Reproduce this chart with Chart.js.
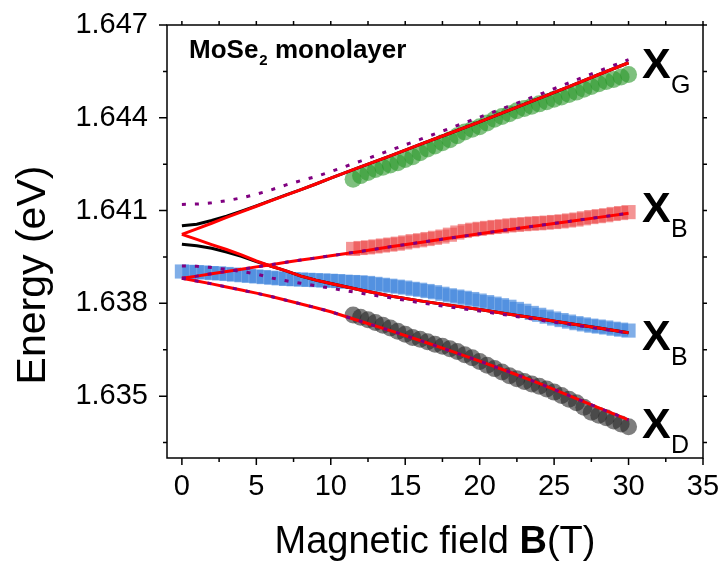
<!DOCTYPE html>
<html>
<head>
<meta charset="utf-8">
<script src="https://cdn.jsdelivr.net/npm/chart.js@4.4.1/dist/chart.umd.min.js"></script>
<style>
  html, body { margin: 0; padding: 0; background: #fff; }
  #wrap { width: 723px; height: 563px; }
</style>
</head>
<body>
<div id="wrap"><canvas id="myChart" width="723" height="563"></canvas></div>
<script>
// axis ticks
const xTicks = [0, 5, 10, 15, 20, 25, 30, 35];
const xMinor = [2.5, 7.5, 12.5, 17.5, 22.5, 27.5, 32.5];
const yTicks = [1.635, 1.638, 1.641, 1.644, 1.647];
const yMinor = [1.6335, 1.6365, 1.6395, 1.6425, 1.6455];

// measured points (B in T, energy in eV)
const measB = [11.5, 12, 12.5, 13, 13.5, 14, 14.5, 15, 15.5, 16, 16.5, 17, 17.5, 18, 18.5, 19, 19.5, 20, 20.5, 21,
  21.5, 22, 22.5, 23, 23.5, 24, 24.5, 25, 25.5, 26, 26.5, 27, 27.5, 28, 28.5, 29, 29.5, 30];
const xG = [1.64201, 1.64213, 1.64223, 1.64233, 1.6424, 1.64247, 1.64255, 1.64265, 1.64274, 1.64287,
  1.64299, 1.64309, 1.64319, 1.64329, 1.64342, 1.64354, 1.64363, 1.64371, 1.64383, 1.64395,
  1.64404, 1.64413, 1.64423, 1.6443, 1.64437, 1.64445, 1.64452, 1.6446, 1.64467, 1.64475,
  1.64483, 1.64492, 1.64501, 1.6451, 1.64517, 1.64524, 1.64532, 1.6454];
const xBup = [1.63976, 1.63979, 1.63981, 1.63984, 1.63987, 1.6399, 1.63993, 1.63997, 1.64001, 1.64004,
  1.64008, 1.64012, 1.64016, 1.64022, 1.64029, 1.64034, 1.64038, 1.64041, 1.64044, 1.64047,
  1.64049, 1.64052, 1.64054, 1.64056, 1.64058, 1.64059, 1.64061, 1.64063, 1.64065, 1.64068,
  1.64071, 1.64075, 1.64079, 1.64082, 1.64085, 1.64089, 1.64092, 1.64095];
const xD = [1.63762, 1.63755, 1.63747, 1.63738, 1.63729, 1.6372, 1.6371, 1.637, 1.6369, 1.63684,
  1.63676, 1.63668, 1.63661, 1.63653, 1.63644, 1.63634, 1.63624, 1.63612, 1.636, 1.63589,
  1.63578, 1.63566, 1.63556, 1.63547, 1.63539, 1.63532, 1.63523, 1.63513, 1.63502, 1.6349,
  1.63479, 1.63464, 1.63448, 1.63438, 1.6343, 1.6342, 1.6341, 1.63401];

const blueB = [0, 0.5, 1, 1.5, 2, 2.5, 3, 3.5, 4, 4.5, 5, 5.5, 6, 6.5, 7, 7.5, 8, 8.5, 9, 9.5,
  10, 10.5, 11, 11.5, 12, 12.5, 13, 13.5, 14, 14.5, 15, 15.5, 16, 16.5, 17, 17.5, 18, 18.5, 19, 19.5,
  20, 20.5, 21, 21.5, 22, 22.5, 23, 23.5, 24, 24.5, 25, 25.5, 26, 26.5, 27, 27.5, 28, 28.5, 29, 29.5, 30];
const xBlow = [1.63903, 1.63902, 1.63901, 1.639, 1.63898, 1.63897, 1.63895, 1.63893, 1.63891, 1.63889,
  1.63887, 1.63885, 1.63883, 1.63881, 1.63879, 1.63878, 1.63877, 1.63876, 1.63875, 1.63874,
  1.63873, 1.63872, 1.6387, 1.63869, 1.63868, 1.63866, 1.63863, 1.6386, 1.63857, 1.63854,
  1.63851, 1.63847, 1.63844, 1.6384, 1.63836, 1.63831, 1.63826, 1.63822, 1.63818, 1.63814,
  1.63809, 1.63804, 1.63799, 1.63794, 1.63789, 1.63782, 1.63776, 1.63769, 1.63763, 1.63757,
  1.63751, 1.63746, 1.63741, 1.63736, 1.63732, 1.63728, 1.63725, 1.63722, 1.63718, 1.63715, 1.63712];

// model curves
const curveB = [0, 1, 2, 3, 4, 5, 6, 7, 8, 9, 10, 12, 14, 16, 18, 20, 22, 24, 26, 28, 30];
const redA = [1.64023, 1.64041, 1.64059, 1.64078, 1.64096, 1.64114, 1.64132, 1.6415, 1.64168, 1.64186, 1.64205,
  1.64241, 1.64277, 1.64314, 1.6435, 1.64387, 1.64425, 1.64463, 1.64501, 1.6454, 1.64578];
const redB = [1.64023, 1.64007, 1.6399, 1.63974, 1.63957, 1.63937, 1.6392, 1.63905, 1.63888, 1.63875, 1.63864,
  1.63843, 1.63824, 1.63808, 1.63794, 1.6378, 1.63765, 1.6375, 1.63735, 1.6372, 1.63705];
const redC = [1.63881, 1.63888, 1.63896, 1.63903, 1.6391, 1.63918, 1.63925, 1.63933, 1.6394, 1.63947, 1.63954,
  1.63968, 1.63983, 1.63997, 1.64011, 1.64025, 1.64039, 1.64052, 1.64065, 1.64078, 1.64091];
const redD = [1.63881, 1.63872, 1.63863, 1.63853, 1.63843, 1.63833, 1.63822, 1.6381, 1.63798, 1.63786, 1.63773,
  1.63742, 1.63712, 1.6368, 1.63647, 1.63613, 1.63578, 1.63541, 1.63502, 1.63462, 1.63423];
const blackA = [1.64051, 1.64056, 1.64068, 1.64082, 1.64098, 1.64115, 1.64133, 1.64151, 1.64168, 1.64186, 1.64205,
  1.64241, 1.64277, 1.64314, 1.6435, 1.64387, 1.64425, 1.64463, 1.64501, 1.6454, 1.64578];
const blackB = [1.63991, 1.63986, 1.63978, 1.63966, 1.63952, 1.63935, 1.6392, 1.63905, 1.63888, 1.63875, 1.63864,
  1.63843, 1.63824, 1.63808, 1.63794, 1.6378, 1.63765, 1.6375, 1.63735, 1.6372, 1.63705];
const purpleA = [1.6412, 1.64121, 1.64125, 1.64132, 1.64141, 1.64153, 1.64167, 1.64183, 1.64197, 1.6421, 1.64226,
  1.6426, 1.64295, 1.6433, 1.64366, 1.64402, 1.64438, 1.64475, 1.64513, 1.64551, 1.64588];
const purpleB = [1.63921, 1.6392, 1.63916, 1.6391, 1.63903, 1.63895, 1.63882, 1.63873, 1.63865, 1.63857, 1.63849,
  1.63833, 1.63818, 1.63802, 1.63788, 1.63775, 1.63761, 1.63746, 1.63732, 1.63718, 1.63704];

const FONT = "'Liberation Sans', Arial, sans-serif";

function pts(xs, ys) {
  return xs.map((b, i) => ({x: b, y: ys[i]}));
}

function curve(xs, ys, color, dashed) {
  return {
    data: pts(xs, ys),
    showLine: true,
    borderColor: color,
    borderWidth: 3,
    borderDash: dashed ? [4, 9] : [],
    borderCapStyle: 'butt',
    pointRadius: 0,
    tension: 0
  };
}

function markers(xs, ys, color, style, r) {
  return {
    data: pts(xs, ys),
    showLine: false,
    pointStyle: style,
    pointRadius: r,
    pointBorderWidth: 0,
    pointBackgroundColor: color,
    pointBorderColor: color
  };
}

// box, ticks, titles and labels
const decor = {
  id: 'decor',
  afterDraw(chart) {
    const ctx = chart.ctx;
    const a = chart.chartArea;
    const x = chart.scales.x, y = chart.scales.y;
    ctx.save();
    ctx.strokeStyle = '#000';
    ctx.lineWidth = 1.5;
    ctx.strokeRect(a.left, a.top, a.right - a.left, a.bottom - a.top);

    ctx.beginPath();
    xTicks.forEach(v => {
      const px = x.getPixelForValue(v);
      ctx.moveTo(px, a.bottom); ctx.lineTo(px, a.bottom + 7);
      ctx.moveTo(px, a.top); ctx.lineTo(px, a.top - 4);
    });
    xMinor.forEach(v => {
      const px = x.getPixelForValue(v);
      ctx.moveTo(px, a.bottom); ctx.lineTo(px, a.bottom + 4);
      ctx.moveTo(px, a.top); ctx.lineTo(px, a.top - 4);
    });
    yTicks.forEach(v => {
      const py = y.getPixelForValue(v);
      ctx.moveTo(a.left, py); ctx.lineTo(a.left - 8, py);
      ctx.moveTo(a.right, py); ctx.lineTo(a.right + 4, py);
    });
    yMinor.forEach(v => {
      const py = y.getPixelForValue(v);
      ctx.moveTo(a.left, py); ctx.lineTo(a.left - 4, py);
      ctx.moveTo(a.right, py); ctx.lineTo(a.right + 4, py);
    });
    ctx.stroke();

    ctx.fillStyle = '#000';
    ctx.textBaseline = 'alphabetic';

    // x title with bold B
    const parts = [['Magnetic field ', '38px ' + FONT], ['B', 'bold 38px ' + FONT], ['(T)', '38px ' + FONT]];
    let total = 0;
    parts.forEach(p => { ctx.font = p[1]; total += ctx.measureText(p[0]).width; });
    let cx = (a.left + a.right) / 2 - total / 2;
    ctx.textAlign = 'left';
    parts.forEach(p => { ctx.font = p[1]; ctx.fillText(p[0], cx, 553); cx += ctx.measureText(p[0]).width; });

    // y title
    ctx.save();
    ctx.translate(45, 275);
    ctx.rotate(-Math.PI / 2);
    ctx.font = '41px ' + FONT;
    ctx.textAlign = 'center';
    ctx.fillText('Energy (eV)', 0, 0);
    ctx.restore();

    // sample label
    ctx.textAlign = 'left';
    ctx.font = 'bold 26px ' + FONT;
    ctx.fillText('MoSe', 189, 58);
    let w = ctx.measureText('MoSe').width;
    ctx.font = 'bold 15px ' + FONT;
    ctx.fillText('2', 189 + w + 1, 65);
    const w2 = ctx.measureText('2').width;
    ctx.font = 'bold 26px ' + FONT;
    ctx.fillText(' monolayer', 189 + w + 1 + w2, 58);

    // branch labels
    const labels = [['G', 78], ['B', 222], ['B', 350], ['D', 438]];
    labels.forEach(l => {
      ctx.font = 'bold 43px ' + FONT;
      ctx.fillText('X', 642, l[1]);
      ctx.font = '25px ' + FONT;
      ctx.fillText(l[0], 671, l[1] + 15);
    });
    ctx.restore();
  }
};

new Chart(document.getElementById('myChart'), {
  type: 'scatter',
  data: {
    datasets: [
      curve(curveB, purpleA, '#800080', true),
      curve(curveB, purpleB, '#800080', true),
      curve(curveB, redC, '#800080', true),
      curve(curveB, redD, '#800080', true),
      curve(curveB, redA, '#ff0000', false),
      curve(curveB, redB, '#ff0000', false),
      curve(curveB, redC, '#ff0000', false),
      curve(curveB, redD, '#ff0000', false),
      curve(curveB, blackA, '#000000', false),
      curve(curveB, blackB, '#000000', false),
      markers(measB, xG, 'rgba(40,150,40,0.6)', 'circle', 8.5),
      markers(measB, xBup, 'rgba(235,60,60,0.55)', 'rect', 10),
      markers(blueB, xBlow, 'rgba(60,130,220,0.65)', 'rect', 10),
      markers(measB, xD, 'rgba(40,40,40,0.6)', 'circle', 8.5)
    ]
  },
  options: {
    responsive: false,
    animation: false,
    layout: { autoPadding: false, padding: { top: 25, right: 20, left: 0, bottom: 0 } },
    plugins: { legend: { display: false }, tooltip: { enabled: false } },
    scales: {
      x: {
        type: 'linear',
        position: 'bottom',
        min: -1,
        max: 35,
        afterBuildTicks: s => { s.ticks = xTicks.map(v => ({value: v})); },
        afterFit: s => { s.height = 105; s.paddingLeft = 0; s.paddingRight = 0; },
        grid: { display: false, drawTicks: false },
        border: { display: false },
        ticks: { color: '#000', padding: 12, font: { family: FONT, size: 29 } }
      },
      y: {
        type: 'linear',
        position: 'left',
        min: 1.633,
        max: 1.647,
        afterBuildTicks: s => { s.ticks = yTicks.map(v => ({value: v})); },
        afterFit: s => { s.width = 167; s.paddingTop = 0; s.paddingBottom = 0; },
        grid: { display: false, drawTicks: false },
        border: { display: false },
        ticks: {
          color: '#000',
          padding: 19,
          font: { family: FONT, size: 29 },
          callback: v => v.toFixed(3)
        }
      }
    }
  },
  plugins: [decor]
});
</script>
</body>
</html>
